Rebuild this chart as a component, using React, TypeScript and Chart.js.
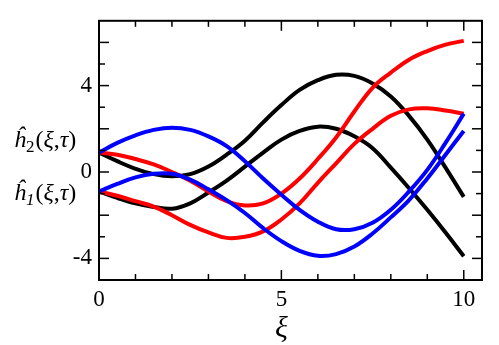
import React, { useEffect, useRef } from "react";
import { Chart, registerables } from "chart.js";

Chart.register(...registerables);

// ξ sample positions
const xi = [0, 0.5, 1, 1.5, 2, 2.5, 3, 3.5, 4, 4.5, 5, 5.5, 6, 6.5, 7, 7.5, 8, 8.5, 9, 9.5, 10];

// ĥ2 family (start near +0.9)
const blackH2 = [0.9, 0.5, 0.15, -0.1, -0.2, -0.1, 0.25, 0.8, 1.45, 2.3, 3.1, 3.8, 4.25, 4.5, 4.45, 4.1, 3.5, 2.6, 1.5, 0.2, -1.15];
const redH2 = [0.9, 0.8, 0.6, 0.35, 0.0, -0.4, -0.9, -1.35, -1.55, -1.45, -1.0, -0.3, 0.6, 1.6, 2.8, 3.9, 4.6, 5.2, 5.6, 5.9, 6.07];
const blueH2 = [0.9, 1.35, 1.7, 1.95, 2.05, 1.95, 1.65, 1.2, 0.5, -0.3, -1.05, -1.75, -2.3, -2.65, -2.65, -2.35, -1.75, -0.9, 0.1, 1.35, 2.7];

// ĥ1 family (start near -0.9)
const blackH1 = [-0.9, -1.2, -1.45, -1.62, -1.7, -1.45, -0.95, -0.4, 0.25, 0.9, 1.5, 1.9, 2.1, 2.0, 1.65, 1.1, 0.2, -0.75, -1.75, -2.8, -3.9];
const redH1 = [-0.9, -1.1, -1.35, -1.6, -2.0, -2.45, -2.8, -3.05, -3.0, -2.75, -2.2, -1.45, -0.5, 0.4, 1.3, 2.0, 2.6, 2.9, 2.95, 2.85, 2.7];
const blueH1 = [-0.9, -0.55, -0.25, -0.08, -0.08, -0.35, -0.8, -1.3, -1.9, -2.6, -3.2, -3.65, -3.88, -3.8, -3.45, -2.85, -2.1, -1.3, -0.3, 0.8, 1.9];

const xTickLabels = [0, 5, 10];
const yTickLabels = [-4, 0, 4];
const xMinorTicks = [0, 1, 2, 3, 4, 5, 6, 7, 8, 9, 10];
const yMinorTicks = [-4, -3, -2, -1, 0, 1, 2, 3, 4, 5, 6];
const xTitle = "ξ";

const SERIF = "'Liberation Serif', 'Times New Roman', serif";

const toPts = (arr: number[]) => xi.map((x, i) => ({ x, y: arr[i] }));

const framePlugin = {
  id: "frameTicks",
  afterDatasetsDraw(chart: any) {
    const { ctx, chartArea } = chart;
    const { left, right, top, bottom } = chartArea;
    const xs = chart.scales.x;
    const ys = chart.scales.y;
    ctx.save();
    ctx.strokeStyle = "#000";
    ctx.lineWidth = 2;
    ctx.strokeRect(left, top, right - left, bottom - top);
    ctx.lineWidth = 1.5;
    const seg = (x1: number, y1: number, x2: number, y2: number) => {
      ctx.beginPath();
      ctx.moveTo(x1, y1);
      ctx.lineTo(x2, y2);
      ctx.stroke();
    };
    xMinorTicks.forEach((v) => {
      const px = xs.getPixelForValue(v);
      const len = v % 5 === 0 ? 10 : 6;
      seg(px, bottom, px, bottom - len);
      seg(px, top, px, top + len);
    });
    yMinorTicks.forEach((v) => {
      const py = ys.getPixelForValue(v);
      const len = v % 2 === 0 ? 10 : 6;
      seg(left, py, left + len, py);
      seg(right, py, right - len, py);
    });
    ctx.restore();
  },
  afterDraw(chart: any) {
    const { ctx } = chart;
    const xs = chart.scales.x;
    // x-axis title, centred under ξ = 5
    ctx.save();
    ctx.fillStyle = "#000";
    ctx.textAlign = "center";
    ctx.textBaseline = "alphabetic";
    ctx.font = `italic 30px ${SERIF}`;
    ctx.fillText(xTitle, xs.getPixelForValue(5), 337);
    ctx.restore();

    const drawLabel = (sub: string, subItalic: boolean, baseY: number) => {
      ctx.save();
      ctx.fillStyle = "#000";
      ctx.textBaseline = "alphabetic";
      ctx.textAlign = "left";
      let x = 14;
      ctx.font = `italic 24px ${SERIF}`;
      ctx.fillText("ĥ", x, baseY);
      x += ctx.measureText("ĥ").width;
      ctx.font = `${subItalic ? "italic " : ""}17px ${SERIF}`;
      ctx.fillText(sub, x, baseY + 5);
      x += ctx.measureText(sub).width + 1;
      ctx.font = `24px ${SERIF}`;
      ctx.fillText("(", x, baseY);
      x += ctx.measureText("(").width;
      ctx.font = `italic 24px ${SERIF}`;
      ctx.fillText("ξ", x, baseY);
      x += ctx.measureText("ξ").width;
      ctx.font = `24px ${SERIF}`;
      ctx.fillText(",", x, baseY);
      x += ctx.measureText(",").width;
      ctx.font = `italic 24px ${SERIF}`;
      ctx.fillText("τ", x, baseY);
      x += ctx.measureText("τ").width;
      ctx.font = `24px ${SERIF}`;
      ctx.fillText(")", x, baseY);
      ctx.restore();
    };
    drawLabel("2", false, 147);
    drawLabel("1", true, 200);
  },
};

export default function App() {
  const canvasRef = useRef<HTMLCanvasElement | null>(null);

  useEffect(() => {
    if (!canvasRef.current) return;
    const line = (data: number[], color: string, order: number) => ({
      data: toPts(data),
      borderColor: color,
      backgroundColor: color,
      borderWidth: 4,
      pointRadius: 0,
      tension: 0.4,
      fill: false,
      order,
    });
    const chart = new Chart(canvasRef.current, {
      type: "line",
      data: {
        datasets: [
          line(blueH2, "#0000ff", 1),
          line(blueH1, "#0000ff", 1),
          line(redH2, "#ff0000", 2),
          line(redH1, "#ff0000", 2),
          line(blackH2, "#000000", 3),
          line(blackH1, "#000000", 3),
        ],
      },
      options: {
        animation: false,
        responsive: true,
        maintainAspectRatio: false,
        layout: { padding: { top: 13, right: 17, left: 0, bottom: 0 } },
        plugins: { legend: { display: false }, tooltip: { enabled: false } },
        scales: {
          x: {
            type: "linear",
            min: 0,
            max: 10.5,
            grid: { display: false, drawTicks: false },
            border: { display: false },
            afterBuildTicks: (s: any) => {
              s.ticks = xTickLabels.map((v) => ({ value: v }));
            },
            afterFit: (s: any) => {
              s.height = 65;
            },
            ticks: {
              color: "#000",
              padding: 6,
              maxRotation: 0,
              font: { family: SERIF, size: 23 },
              callback: (v: any) => String(v),
            },
          },
          y: {
            type: "linear",
            min: -5,
            max: 7,
            grid: { display: false, drawTicks: false },
            border: { display: false },
            afterBuildTicks: (s: any) => {
              s.ticks = yTickLabels.map((v) => ({ value: v }));
            },
            afterFit: (s: any) => {
              s.width = 99;
            },
            ticks: {
              color: "#000",
              padding: 7,
              font: { family: SERIF, size: 23 },
              callback: (v: any) => String(v),
            },
          },
        },
      },
      plugins: [framePlugin],
    } as any);
    return () => chart.destroy();
  }, []);

  return (
    <div style={{ position: "absolute", left: 0, top: 0, width: 499, height: 345, background: "#fff" }}>
      <canvas ref={canvasRef} />
    </div>
  );
}
